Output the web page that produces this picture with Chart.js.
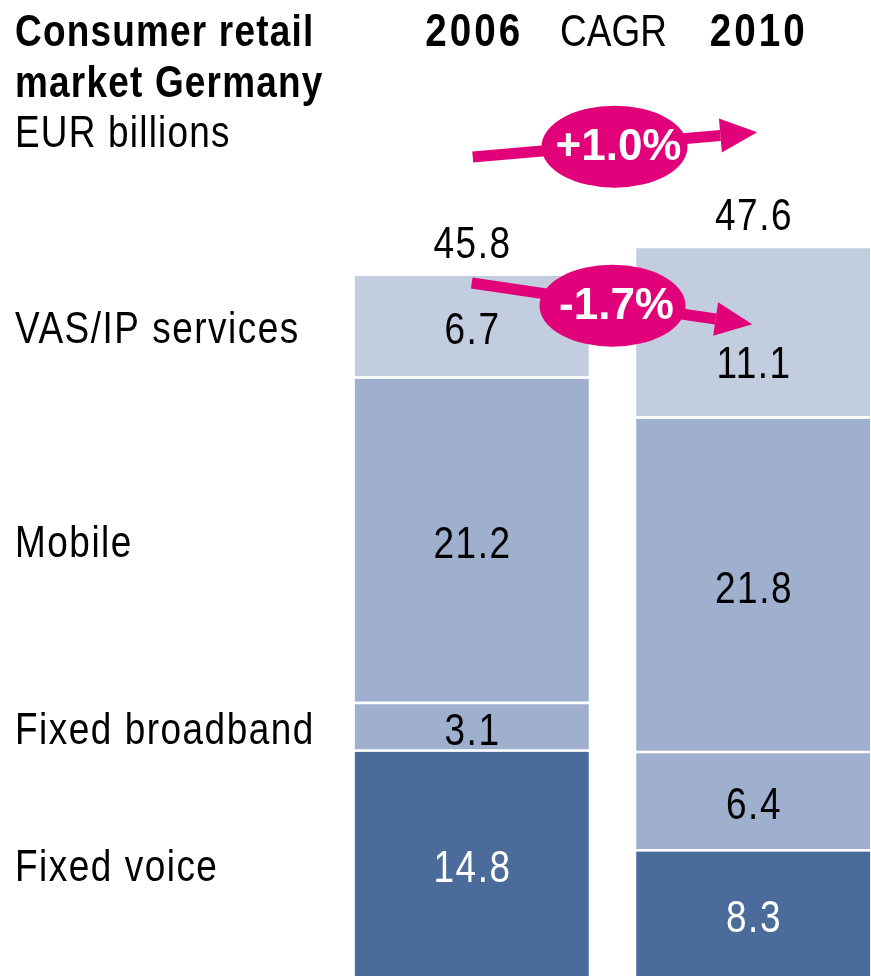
<!DOCTYPE html>
<html>
<head>
<meta charset="utf-8">
<script src="https://cdn.jsdelivr.net/npm/chart.js@4.4.1/dist/chart.umd.min.js"></script>
<style>
  html, body { margin: 0; padding: 0; background: #fff; overflow: hidden; }
  #wrap { width: 871px; height: 976px; overflow: hidden; }
  canvas { display: block; }
</style>
</head>
<body>
<div id="wrap"><canvas id="chart" width="900" height="979"></canvas></div>
<script>
// data, bottom segment first
const years = ['2006', '2010'];
const segmentNames = ['Fixed voice', 'Fixed broadband', 'Mobile', 'VAS/IP services'];
const fixedVoice = [14.8, 8.3];
const fixedBroadband = [3.1, 6.4];
const mobile = [21.2, 21.8];
const vasIp = [6.7, 11.1];
const totals = [45.8, 47.6];
const cagrLabels = ['+1.0%', '-1.7%'];
const titleLines = ['Consumer retail', 'market Germany'];
const unitLabel = 'EUR billions';

const segColors = ['#4b6b9a', '#9eb0ce', '#9eb0ce', '#c2cde0'];
const labelColors = ['#ffffff', '#000000', '#000000', '#000000'];
const MAGENTA = '#e2007a';
const SANS = '"Liberation Sans", Arial, sans-serif';
const NARROW_X = 0.84; // no narrow font installed, squeeze Liberation Sans instead

function txt(ctx, s, x, y, font, color, align, spacing) {
  ctx.save();
  ctx.translate(x, y);
  ctx.scale(NARROW_X, 1);
  ctx.font = font;
  ctx.fillStyle = color;
  ctx.textAlign = align || 'left';
  ctx.textBaseline = 'alphabetic';
  ctx.letterSpacing = ((spacing || 0) / NARROW_X) + 'px';
  // centred text: compensate trailing spacing
  const shift = align === 'center' ? ((spacing || 0) / NARROW_X) / 2 : 0;
  ctx.fillText(s, shift, 0);
  ctx.restore();
}

function arrow(ctx, x0, y0, x1, y1, mx, label) {
  const ang = Math.atan2(y1 - y0, x1 - x0);
  const headLen = 37, half = 17;
  const bx = x1 - headLen * Math.cos(ang), by = y1 - headLen * Math.sin(ang);
  ctx.strokeStyle = MAGENTA;
  ctx.fillStyle = MAGENTA;
  ctx.lineWidth = 11;
  ctx.beginPath(); ctx.moveTo(x0, y0); ctx.lineTo(bx, by); ctx.stroke();
  ctx.beginPath();
  ctx.moveTo(x1, y1);
  ctx.lineTo(bx - half * Math.sin(ang), by + half * Math.cos(ang));
  ctx.lineTo(bx + half * Math.sin(ang), by - half * Math.cos(ang));
  ctx.closePath(); ctx.fill();
  const my = y0 + (mx - x0) / (x1 - x0) * (y1 - y0) + 2;
  ctx.beginPath(); ctx.ellipse(mx, my, 73, 41, 0, 0, Math.PI * 2); ctx.fill();
  ctx.font = 'bold 44px ' + SANS;
  ctx.letterSpacing = '0px';
  ctx.fillStyle = '#fff';
  ctx.textAlign = 'center';
  ctx.textBaseline = 'middle';
  ctx.fillText(label, mx + 4, my + 1);
}

const decorations = {
  id: 'decorations',
  afterDatasetsDraw(chart) {
    const ctx = chart.ctx;
    ctx.save();
    const metas = [0, 1, 2, 3].map(i => chart.getDatasetMeta(i));
    // segment values
    metas.forEach((meta, i) => {
      meta.data.forEach((el, j) => {
        let cy = (el.y + el.base - 3) / 2 + 18;
        if (i === 3 && j === 1) cy += 28; // keep clear of the CAGR arrow
        const v = chart.data.datasets[i].data[j].toFixed(1);
        txt(ctx, v, el.x, cy, '44px ' + SANS, labelColors[i], 'center', 1.5);
      });
    });
    // totals above bars
    const tops = metas[3].data.map(el => el.y);
    metas[3].data.forEach((el, j) => {
      txt(ctx, totals[j].toFixed(1), el.x, el.y - 18, '44px ' + SANS, '#000', 'center', 1.5);
    });
    // row labels on the left, aligned to 2006 segments
    metas.forEach((meta, i) => {
      const el = meta.data[0];
      const cy = (el.y + el.base - 3) / 2 + 17;
      txt(ctx, segmentNames[i], 15, Math.min(cy, 887), '44px ' + SANS, '#000', 'left', 1.5);
    });
    // titles and headers
    txt(ctx, titleLines[0], 15, 46, 'bold 44px ' + SANS, '#000', 'left', 1.2);
    txt(ctx, titleLines[1], 15, 97, 'bold 44px ' + SANS, '#000', 'left', 1.2);
    txt(ctx, unitLabel, 15, 147, '44px ' + SANS, '#000', 'left', 1.2);
    const x1 = metas[0].data[0].x, x2 = metas[0].data[1].x;
    const mid = (x1 + x2) / 2;
    txt(ctx, years[0], x1 + 1, 46, 'bold 46px ' + SANS, '#000', 'center', 3);
    txt(ctx, 'CAGR', mid + 1, 46, '44px ' + SANS, '#000', 'center', 0);
    txt(ctx, years[1], x2 + 4, 46, 'bold 46px ' + SANS, '#000', 'center', 3);
    // CAGR arrows
    arrow(ctx, x1 + 1, tops[0] - 119, x2 + 4, tops[1] - 116, mid + 2, cagrLabels[0]);
    arrow(ctx, x1, tops[0] + 7, x2 - 1, tops[1] + 76, mid, cagrLabels[1]);
    ctx.restore();
  }
};

const datasets = [fixedVoice, fixedBroadband, mobile, vasIp].map((vals, i) => ({
  label: segmentNames[i],
  data: vals,
  backgroundColor: segColors[i],
  borderColor: '#ffffff',
  borderWidth: { top: 0, bottom: 3, left: 0, right: 0 },
  borderSkipped: false,
  barThickness: 234
}));

new Chart(document.getElementById('chart'), {
  type: 'bar',
  data: { labels: years, datasets: datasets },
  plugins: [decorations],
  options: {
    responsive: false,
    animation: false,
    devicePixelRatio: 1,
    layout: { padding: { left: 331, right: 6, top: 0, bottom: 0 } },
    plugins: { legend: { display: false }, tooltip: { enabled: false } },
    scales: {
      x: { stacked: true, display: false },
      y: { stacked: true, display: false, min: 0, max: 63.78 }
    }
  }
});
</script>
</body>
</html>
